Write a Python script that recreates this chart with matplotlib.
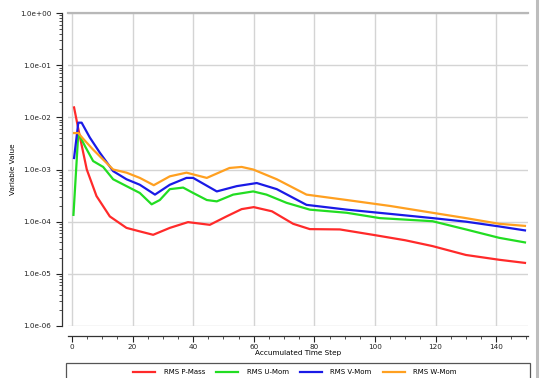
import matplotlib
matplotlib.use("Agg")
import matplotlib.pyplot as plt
from matplotlib.patches import Rectangle
from matplotlib.lines import Line2D
from matplotlib.ticker import LogLocator, MultipleLocator, FixedLocator, NullFormatter

# Residual histories (RMS) against accumulated time step
t_p = [0.7, 2.6, 4.9, 8.1, 12.5, 18, 22, 26.8, 32.3, 38.3, 45.5, 51, 56, 60, 66,
       73, 78.5, 88.4, 99.3, 110, 119, 130, 141, 149.5]
rms_p = [1.55e-2, 4.3e-3, 1.0e-3, 3.1e-4, 1.26e-4, 7.6e-5, 6.6e-5, 5.6e-5, 7.6e-5,
         9.8e-5, 8.7e-5, 1.26e-4, 1.74e-4, 1.9e-4, 1.58e-4, 9.1e-5, 7.2e-5, 7.1e-5,
         5.6e-5, 4.4e-5, 3.4e-5, 2.3e-5, 1.86e-5, 1.62e-5]

t_u = [0.5, 2.1, 4.3, 7, 10.3, 13.6, 18, 22.4, 26.3, 29, 32.3, 36.7, 40, 44.5, 47.8,
       53.2, 59.8, 64.2, 70.8, 78.5, 90.7, 101.6, 119, 130, 141, 149.5]
rms_u = [1.35e-4, 5.0e-3, 2.8e-3, 1.45e-3, 1.12e-3, 6.5e-4, 4.8e-4, 3.55e-4, 2.15e-4,
         2.6e-4, 4.2e-4, 4.5e-4, 3.55e-4, 2.6e-4, 2.45e-4, 3.3e-4, 3.8e-4, 3.3e-4,
         2.3e-4, 1.7e-4, 1.48e-4, 1.17e-4, 1.02e-4, 7.1e-5, 4.9e-5, 4.0e-5]

t_v = [0.7, 2.1, 3.2, 5.9, 9.2, 13.6, 18, 22.4, 27.4, 32.3, 37.8, 40, 47.8, 54.4, 61,
       67.6, 77.4, 90.7, 105, 119, 130, 141, 149.5]
rms_v = [1.66e-3, 7.9e-3, 7.9e-3, 4.1e-3, 2.1e-3, 9.3e-4, 6.5e-4, 5.1e-4, 3.3e-4,
         5.1e-4, 6.9e-4, 6.9e-4, 3.8e-4, 4.8e-4, 5.5e-4, 4.2e-4, 2.1e-4, 1.7e-4,
         1.41e-4, 1.17e-4, 1.0e-4, 8.1e-5, 6.8e-5]

t_w = [0.7, 2.1, 3.5, 7, 13.6, 18, 22.4, 27, 32.3, 37.8, 44.5, 52, 56, 59.8, 67.6,
       77.4, 90.7, 105, 119, 130, 141, 149.5]
rms_w = [5.0e-3, 5.0e-3, 4.0e-3, 2.4e-3, 1.0e-3, 8.7e-4, 6.9e-4, 5.0e-4, 7.4e-4,
         8.7e-4, 6.9e-4, 1.07e-3, 1.12e-3, 1.0e-3, 6.5e-4, 3.3e-4, 2.6e-4, 2.0e-4,
         1.48e-4, 1.17e-4, 9.1e-5, 8.3e-5]

series_names = ["RMS P-Mass", "RMS U-Mom", "RMS V-Mom", "RMS W-Mom"]
series_colors = ["#ff2a2a", "#22dd22", "#1a1ae6", "#ffa020"]

y_ticks = [1e-6, 1e-5, 1e-4, 1e-3, 1e-2, 1e-1, 1e0]
y_tick_labels = ["1.0e-06", "1.0e-05", "1.0e-04", "1.0e-03", "1.0e-02", "1.0e-01", "1.0e+00"]
x_ticks = [0, 20, 40, 60, 80, 100, 120, 140]

W, H = 547, 378
fig = plt.figure(figsize=(W / 100, H / 100), dpi=100)
fig.patch.set_facecolor("white")

ax = fig.add_axes([68 / W, 1 - 326 / H, (528 - 68) / W, (326 - 13) / H])
ax.set_yscale("log")
ax.set_ylim(1e-6, 1e0)
ax.set_xlim(-1.3, 150.5)

for t, v, c, n in zip([t_p, t_u, t_v, t_w], [rms_p, rms_u, rms_v, rms_w],
                      series_colors, series_names):
    ax.plot(t, v, color=c, lw=1.6, label=n, zorder=3)

ax.grid(True, which="major", color="#d4d4d4", lw=1.0)
ax.set_axisbelow(True)

ax.yaxis.set_major_locator(FixedLocator(y_ticks))
ax.set_yticklabels(y_tick_labels)
ax.yaxis.set_minor_locator(LogLocator(base=10, subs=range(2, 10)))
ax.yaxis.set_minor_formatter(NullFormatter())
ax.set_xticks(x_ticks)
ax.xaxis.set_minor_locator(MultipleLocator(5))

ax.tick_params(axis="both", which="major", labelsize=5.2, length=4, width=0.8,
               direction="out", colors="#222222")
ax.tick_params(axis="both", which="minor", length=2, width=0.6, direction="out",
               colors="#333333")
ax.tick_params(axis="y", pad=4)
ax.tick_params(axis="x", pad=2)

ax.spines["left"].set_position(("outward", 4))
ax.spines["bottom"].set_position(("outward", 7))
ax.spines["right"].set_visible(False)
ax.spines["top"].set_color("#b8b8b8")
ax.spines["top"].set_linewidth(1.6)
for s in ("left", "bottom"):
    ax.spines[s].set_color("#333333")
    ax.spines[s].set_linewidth(0.9)

ax.set_xlabel("Accumulated Time Step", fontsize=5.2, labelpad=0)
ax.set_ylabel("Variable Value", fontsize=5.2, labelpad=3)

# Outer panel edge on the right
fig.add_artist(Line2D([537 / W, 537 / W], [0, 1], color="#bdbdbd", lw=2.2,
                      transform=fig.transFigure))

# Legend strip at the bottom
fig.add_artist(Rectangle((66 / W, -0.01), (530 - 66) / W, (0.01 + (H - 363) / H),
                         transform=fig.transFigure, fill=False,
                         edgecolor="#555555", lw=0.9))
handles, labels = ax.get_legend_handles_labels()
fig.legend(handles, labels, loc="center", bbox_to_anchor=(295 / W, 1 - 372 / H),
           ncol=4, frameon=False, fontsize=5, handlelength=3.2, columnspacing=1.6,
           handletextpad=1.2)

fig.savefig("out.png", dpi=100)
